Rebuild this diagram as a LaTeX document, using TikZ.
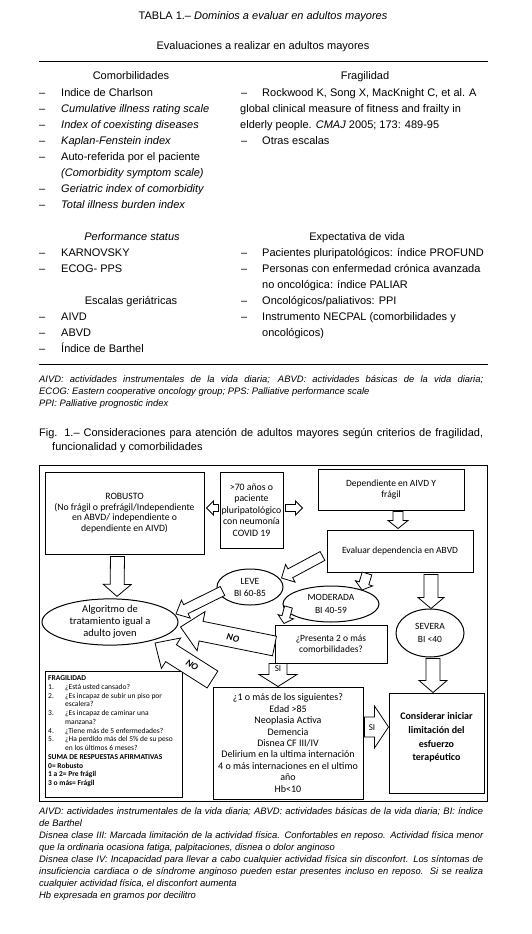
\documentclass[tikz,border=0pt]{standalone}
\usepackage{fontspec}
\setmainfont{Liberation Sans}
\newfontfamily\fcf{Carlito}
\usetikzlibrary{calc,shapes.geometric}
\tikzset{
 tx/.style={inner sep=0pt, anchor=base west, font=\fontsize{11}{14}\selectfont},
 txc/.style={tx, anchor=base},
 fn/.style={inner sep=0pt, anchor=base west, font=\fontsize{9.4}{12}\selectfont\itshape},
 box/.style={draw, line width=1pt, inner sep=0pt, align=center},
 ell/.style={draw, ellipse, line width=1pt, inner sep=0pt, align=center},
 fc/.style={font=\fcf\fontsize{9.5}{11}\selectfont},
 blk/.style={draw, fill=white, line width=0.8pt, line join=miter},
 lbl/.style={inner sep=0pt, font=\fcf\bfseries\itshape\fontsize{9.5}{9.5}\selectfont},
 sil/.style={inner sep=0pt, font=\fcf\fontsize{9}{9}\selectfont},
 fl/.style={inner sep=0pt, anchor=base west, font=\fcf\fontsize{7.5}{8.7}\selectfont},
}
\newcommand\barr[6][]{%
  \path #2 coordinate (bas) #3 coordinate (bat);
  \coordinate (bah) at ($(bat)!#6!(bas)$);
  \draw[blk,#1] ($(bas)!#4!90:(bat)$) -- ($(bah)!#4!90:(bat)$) -- ($(bah)!#5!90:(bat)$) -- (bat)
    -- ($(bah)!#5!-90:(bat)$) -- ($(bah)!#4!-90:(bat)$) -- ($(bas)!#4!-90:(bat)$) -- cycle;}
\newcommand\numit[1]{\makebox[17pt][l]{#1}}
\begin{document}
\begin{tikzpicture}[x=1pt,y=-1pt]
\useasboundingbox[fill=white] (0,0) rectangle (531,934);
% ---------- table ----------
\node[txc] (title) at (263,20) {TABLA 1.– \textit{Dominios a evaluar en adultos mayores}};
\node[txc] (sub) at (263,49) {Evaluaciones a realizar en adultos mayores};
\coordinate (r1a) at (39,62); \coordinate (r1b) at (488,62);
\draw[line width=1pt] (r1a) -- (r1b);
\coordinate (r2a) at (39,364); \coordinate (r2b) at (488,364);
\draw[line width=1pt] (r2a) -- (r2b);
% left column
\node[txc] (hcom) at (131,80) {Comorbilidades};
\foreach \y/\t [count=\i] in {96/{Indice de Charlson},112/{\textit{Cumulative illness rating scale}},128/{\textit{Index of coexisting diseases}},144/{\textit{Kaplan-Fenstein index}},160/{Auto-referida por el paciente},176/{\textit{(Comorbidity symptom scale)}},192/{\textit{Geriatric index of comorbidity}},208/{\textit{Total illness burden index}}}
  \node[tx] (lc\i) at (61,\y) {\t};
\foreach \y [count=\i] in {96,112,128,144,160,192,208,256,272,320,336,352}
  \node[tx] (dl\i) at (39,\y) {–};
\node[txc] (hps) at (132,240) {\textit{Performance status}};
\node[tx] (ps1) at (61,256) {KARNOVSKY};
\node[tx] (ps2) at (61,272) {ECOG- PPS};
\node[txc] (hesc) at (131,304) {Escalas geriátricas};
\node[tx] (es1) at (61,320) {AIVD};
\node[tx] (es2) at (61,336) {ABVD};
\node[tx] (es3) at (61,352) {Índice de Barthel};
% right column
\node[txc] (hfra) at (365,80) {Fragilidad};
\node[tx] (fr1) at (262,96) {Rockwood K, Song X, MacKnight C, et al. A};
\node[tx] (fr2) at (240,112) {global clinical measure of fitness and frailty in};
\node[tx] (fr3) at (240,128) {elderly people. \textit{CMAJ} 2005; 173: 489-95};
\node[tx] (fr4) at (262,144) {Otras escalas};
\foreach \y [count=\i] in {96,144,256,272,304,320}
  \node[tx] (dr\i) at (241,\y) {–};
\node[txc] (hexp) at (357,240) {Expectativa de vida};
\node[tx] (ex1) at (262,256) {Pacientes pluripatológicos: índice PROFUND};
\node[tx] (ex2) at (262,272) {Personas con enfermedad crónica avanzada};
\node[tx] (ex3) at (262,288) {no oncológica: índice PALIAR};
\node[tx] (ex4) at (262,304) {Oncológicos/paliativos: PPI};
\node[tx] (ex5) at (262,320) {Instrumento NECPAL (comorbilidades y};
\node[tx] (ex6) at (262,336) {oncológicos)};
% table footnote
\node[fn] (tf1) at (39,382) {\makebox[444pt][s]{AIVD: actividades instrumentales de la vida diaria; ABVD: actividades básicas de la vida diaria;}};
\node[fn] (tf2) at (39,394) {ECOG: Eastern cooperative oncology group; PPS: Palliative performance scale};
\node[fn] (tf3) at (39,406) {PPI: Palliative prognostic index};
% caption
\node[tx] (cap1) at (39,436) {\makebox[444pt][s]{Fig. 1.– Consideraciones para atención de adultos mayores según criterios de fragilidad,}};
\node[tx] (cap2) at (52,450) {funcionalidad y comorbilidades};
% ---------- flowchart ----------
\node[box, minimum width=448, minimum height=336] (outer) at (263,633) {};
\node[box, fc, minimum width=159, minimum height=82, font=\fcf\fontsize{9.7}{10.7}\selectfont] (rob) at (124.5,513)
  {ROBUSTO\\(No frágil o prefrágil/Independiente\\en ABVD/ independiente o\\dependiente en AIVD)};
\node[box, fc, minimum width=63, minimum height=76, font=\fcf\fontsize{9.8}{11.5}\selectfont] (old) at (251.5,510)
  {>70 años o\\paciente\\pluripatológico\\con neumonía\\COVID 19};
\node[box, fc, minimum width=146, minimum height=41] (dep) at (391,489.5) {Dependiente en AIVD Y\\frágil};
\node[box, fc, minimum width=146, minimum height=42] (eva) at (400,551) {Evaluar dependencia en ABVD};
\node[ell, fc, minimum width=66, minimum height=36, font=\fcf\fontsize{9.5}{12}\selectfont] (leve) at (250,587) {LEVE\\BI 60-85};
\node[ell, fc, minimum width=96, minimum height=36, font=\fcf\fontsize{9.5}{12.5}\selectfont] (mod) at (331,604) {MODERADA\\BI 40-59};
\node[ell, fc, minimum width=68, minimum height=48, font=\fcf\fontsize{9.5}{13}\selectfont] (sev) at (430,633) {SEVERA\\BI <40};
\node[ell, fc, minimum width=136, minimum height=46, font=\fcf\fontsize{10.5}{11.8}\selectfont] (alg) at (110,622) {Algoritmo de\\tratamiento igual a\\adulto joven};
\node[box, fc, minimum width=112, minimum height=38, font=\fcf\fontsize{9.5}{11}\selectfont] (pre) at (331,644) {¿Presenta 2 o más\\comorbilidades?};
\node[box, fc, minimum width=150, minimum height=112, font=\fcf\fontsize{10}{11.4}\selectfont] (uno) at (288,743)
  {¿1 o más de los siguientes?\\Edad >85\\Neoplasia Activa\\Demencia\\Disnea CF III/IV\\Delirium en la ultima internación\\4 o más internaciones en el ultimo\\año\\Hb<10};
\node[box, minimum width=95, minimum height=100] (con) at (436.5,743) {};
\node[fc, align=center, inner sep=0pt, font=\fcf\bfseries\fontsize{10}{13.7}\selectfont] (cont) at (436.5,737.5)
  {Considerar iniciar\\limitación del\\esfuerzo\\terapéutico};
\node[box, minimum width=137, minimum height=126] (fra) at (113.5,734) {};
\foreach \t [count=\i from 0] in {\textbf{FRAGILIDAD},
  \numit{1.}¿Está usted cansado?,
  \numit{2.}¿Es incapaz de subir un piso por,
  \numit{}escalera?,
  \numit{3.}¿Es incapaz de caminar una,
  \numit{}manzana?,
  \numit{4.}¿Tiene más de 5 enfermedades?,
  \numit{5.}¿Ha perdido más del 5\% de su peso,
  \numit{}en los últimos 6 meses?,
  \textbf{SUMA DE RESPUESTAS AFIRMATIVAS},
  \textbf{0= Robusto},
  \textbf{1 a 2= Pre frágil},
  \textbf{3 o más= Frágil}}
  \node[fl] (fl\i) at (48,680.6+8.75*\i) {\t};
% arrows
\barr{($(old.west)+(-1,-2)$)}{($(rob.east)+(2,-5)$)}{3.5pt}{7pt}{7pt}
\barr{($(old.east)+(2,-2)$)}{($(dep.west)+(-15,18.5)$)}{3.5pt}{7pt}{7pt}
\barr{($(dep.south)+(7,1)$)}{($(eva.north)+(-2,-1)$)}{5pt}{10pt}{8pt}
\barr{($(eva.west)+(-4,5)$)}{($(leve.east)+(-2,-9)$)}{5pt}{10pt}{10pt}
\barr{($(eva.south)+(-33,1)$)}{($(mod.center)+(31,-14)$)}{5pt}{9pt}{7pt}
\barr{($(eva.south)+(31,2)$)}{($(sev.north)+(1,0)$)}{7pt}{13pt}{11pt}
\barr{($(sev.south)+(3,1)$)}{($(con.north)+(-3.5,0)$)}{7pt}{14pt}{12pt}
\barr{($(mod.west)+(6,3)$)}{($(pre.north)+(-47,-1)$)}{4pt}{8pt}{7pt}
\barr{($(rob.south)+(-7,2)$)}{($(alg.north)+(7,-2)$)}{7pt}{14pt}{12pt}
\barr{($(leve.west)+(6,4)$)}{($(alg.center)+(66,-8)$)}{5pt}{10pt}{11pt}
\barr{($(pre.west)+(0,2)$)}{($(alg.east)+(2,5)$)}{10pt}{20pt}{21pt}
\barr{($(uno.north west)+(0,-7)$)}{($(alg.center)+(45,21)$)}{10pt}{18pt}{19pt}
\barr{($(pre.south)+(-53,0)$)}{($(uno.north)+(-10,0)$)}{9pt}{19pt}{12pt}
\barr{($(uno.east)+(1,-16)$)}{($(con.west)+(0,-16)$)}{10pt}{21pt}{14pt}
\node[lbl, rotate=-11] (no1) at (233,638) {NO};
\node[lbl, rotate=-33] (no2) at (192,665) {NO};
\node[sil] (si1) at (278,669) {SI};
\node[sil] (si2) at (372,728) {SI};
% ---------- figure footnotes ----------
\node[fn] (ff1) at (39,814.4) {\makebox[444pt][s]{AIVD: actividades instrumentales de la vida diaria; ABVD: actividades básicas de la vida diaria; BI: índice}};
\node[fn] (ff2) at (39,826.4) {de Barthel};
\node[fn] (ff3) at (39,838.4) {\makebox[444pt][s]{Disnea clase III: Marcada limitación de la actividad física. Confortables en reposo. Actividad física menor}};
\node[fn] (ff4) at (39,850.4) {que la ordinaria ocasiona fatiga, palpitaciones, disnea o dolor anginoso};
\node[fn] (ff5) at (39,862.4) {\makebox[444pt][s]{Disnea clase IV: Incapacidad para llevar a cabo cualquier actividad física sin disconfort. Los síntomas de}};
\node[fn] (ff6) at (39,874.4) {\makebox[444pt][s]{insuficiencia cardiaca o de síndrome anginoso pueden estar presentes incluso en reposo. Si se realiza}};
\node[fn] (ff7) at (39,886.4) {cualquier actividad física, el disconfort aumenta};
\node[fn] (ff8) at (39,898.4) {Hb expresada en gramos por decilitro};
\end{tikzpicture}
\end{document}
